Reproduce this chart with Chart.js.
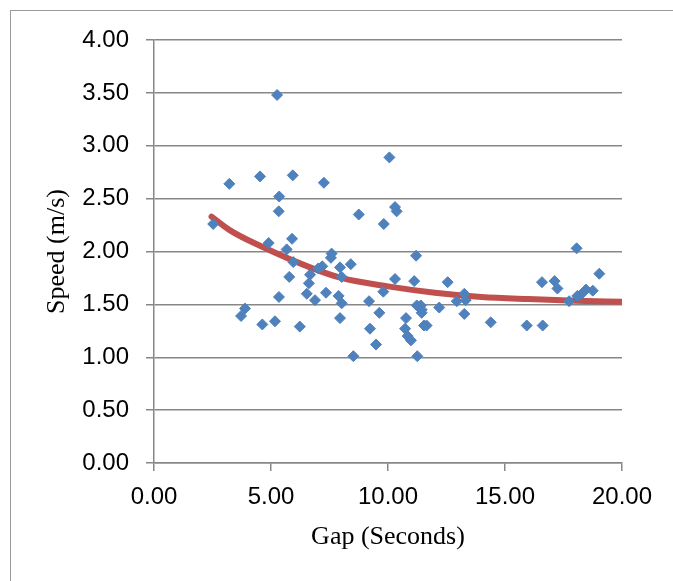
<!DOCTYPE html>
<html>
<head>
<meta charset="utf-8">
<script src="https://cdn.jsdelivr.net/npm/chart.js@4/dist/chart.umd.min.js"></script>
<style>
  html, body { margin: 0; padding: 0; background: #fff; }
  #wrap { position: relative; width: 673px; height: 581px; overflow: hidden; }
  #frame { position: absolute; left: 10px; top: 10px; width: 700px; height: 600px;
           border-left: 1.5px solid #9a9a9a; border-top: 1.5px solid #9a9a9a; box-sizing: border-box; }
  canvas { position: absolute; left: 0; top: 0; }
</style>
</head>
<body>
<div id="wrap">
  <div id="frame"></div>
  <canvas id="c" width="673" height="581"></canvas>
</div>
<script>
const gapSeconds = [2.53, 3.22, 4.53, 5.93, 5.35, 5.33, 5.26, 4.90, 5.90, 5.67, 5.95, 5.78, 5.34, 3.89, 3.72, 4.63, 5.17, 6.23,
  10.06, 7.26, 8.75, 9.82, 10.30, 10.37, 7.59, 11.20, 7.56, 8.41, 7.95, 7.19, 7.02, 8.02, 6.67, 6.62, 6.53, 6.88, 7.35, 7.89,
  8.02, 7.95, 8.52, 9.19, 9.63, 9.23, 9.49, 9.80, 10.30, 11.12, 10.77, 10.73, 10.84, 10.98, 11.25, 11.23, 11.40, 11.44, 11.44,
  11.54, 11.65, 12.19, 12.55, 12.94, 13.26, 13.32, 13.26, 14.39, 15.93, 16.61, 16.58, 17.12, 17.24, 18.06, 19.03, 18.75, 18.46,
  18.28, 18.09, 17.74];
const speedMs = [2.26, 2.64, 2.71, 2.72, 2.52, 2.38, 3.48, 2.08, 2.12, 2.02, 1.90, 1.76, 1.57, 1.46, 1.39, 1.31, 1.34, 1.29,
  2.89, 2.65, 2.35, 2.26, 2.42, 2.38, 1.98, 1.96, 1.94, 1.88, 1.85, 1.86, 1.84, 1.76, 1.78, 1.70, 1.60, 1.54, 1.61, 1.58,
  1.51, 1.37, 1.01, 1.53, 1.42, 1.27, 1.12, 1.62, 1.74, 1.72, 1.37, 1.27, 1.20, 1.16, 1.01, 1.49, 1.49, 1.45, 1.42,
  1.30, 1.30, 1.47, 1.71, 1.53, 1.60, 1.54, 1.41, 1.33, 1.30, 1.30, 1.71, 1.72, 1.65, 2.03, 1.79, 1.63, 1.64,
  1.60, 1.58, 1.53];
// Trend line
const trendGap   = [2.46, 3.25, 4.67, 6.67, 8, 10, 12, 14, 16, 18, 20];
const trendSpeed = [2.33, 2.20, 2.04, 1.85, 1.75, 1.67, 1.61, 1.57, 1.55, 1.535, 1.525];

const xTitle = 'Gap (Seconds)';
const yTitle = 'Speed (m/s)';

const gridColor = '#878787';
const tickFont = { family: '"Liberation Sans", Arial, sans-serif', size: 24 };
const titleFont = { family: '"Liberation Serif", "Times New Roman", serif', size: 26 };

const scatterPts = gapSeconds.map((g, i) => ({ x: g, y: speedMs[i] }));
const trendPts = trendGap.map((g, i) => ({ x: g, y: trendSpeed[i] }));

new Chart(document.getElementById('c'), {
  type: 'scatter',
  data: {
    datasets: [
      {
        label: 'Trend',
        type: 'line',
        data: trendPts,
        borderColor: '#C0504D',
        borderWidth: 6,
        pointRadius: 0,
        fill: false,
        cubicInterpolationMode: 'monotone',
        borderCapStyle: 'round',
        order: 2
      },
      {
        label: 'Speed',
        data: scatterPts,
        pointStyle: 'rectRot',
        pointRadius: 5.5,
        pointBackgroundColor: '#4F81BD',
        pointBorderColor: '#4F81BD',
        pointBorderWidth: 1,
        order: 1
      }
    ]
  },
  options: {
    responsive: false,
    animation: false,
    layout: { padding: { left: 0, top: 40, right: 51, bottom: 0 } },
    plugins: { legend: { display: false }, tooltip: { enabled: false } },
    scales: {
      x: {
        type: 'linear',
        min: 0, max: 20,
        ticks: { stepSize: 5, color: '#000', font: tickFont, padding: 12,
                 callback: v => Number(v).toFixed(2) },
        grid: { drawOnChartArea: false, drawTicks: true, tickLength: 8, color: gridColor, lineWidth: 1.5 },
        border: { display: true, color: gridColor, width: 1.5 },
        title: { display: true, text: xTitle, color: '#000', font: titleFont, padding: { top: 0, bottom: 28 } },
        afterFit: s => { s.height = 118; }
      },
      y: {
        type: 'linear',
        min: 0, max: 4,
        ticks: { stepSize: 0.5, color: '#000', font: tickFont, padding: 17,
                 callback: v => Number(v).toFixed(2) },
        grid: { drawOnChartArea: true, drawTicks: true, tickLength: 8, color: gridColor, lineWidth: 1.5 },
        border: { display: true, color: gridColor, width: 1.5 },
        title: { display: true, text: yTitle, color: '#000', font: titleFont, padding: { top: 42, bottom: 0 } },
        afterFit: s => { s.width = 154; }
      }
    }
  }
});
</script>
</body>
</html>
